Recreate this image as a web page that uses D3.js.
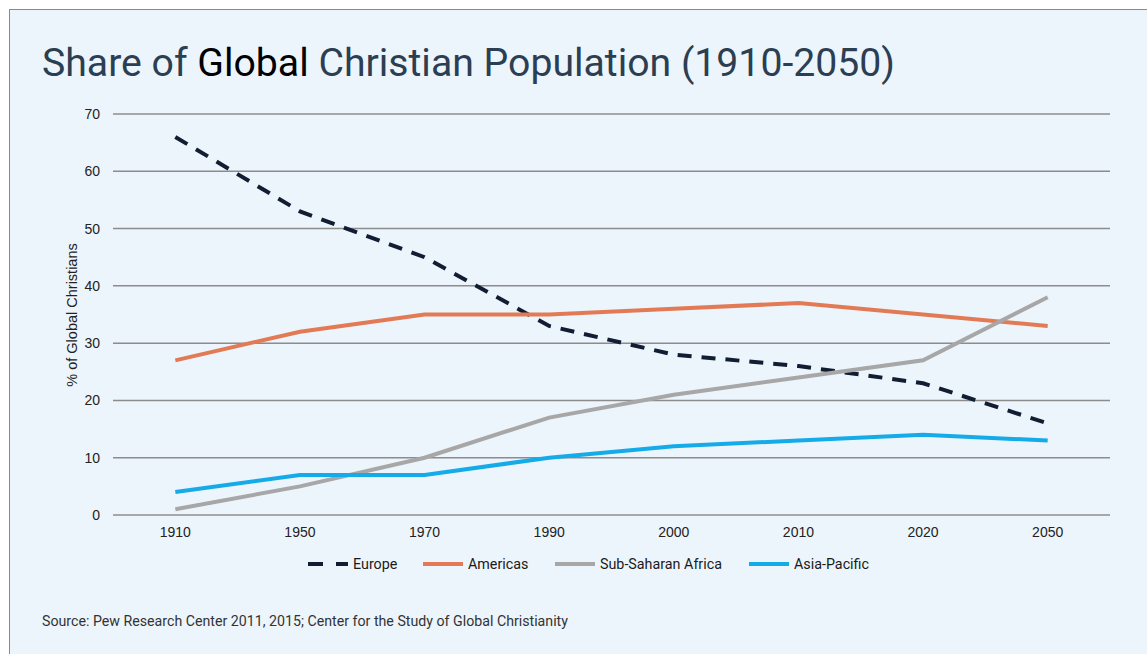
<!DOCTYPE html>
<html>
<head>
<meta charset="utf-8">
<script src="https://cdn.jsdelivr.net/npm/d3@7"></script>
<style>
  html, body { margin: 0; padding: 0; background: #fff; }
  svg { display: block; }
</style>
</head>
<body>
<script>
const [svgWidth, svgHeight] = [1147, 654]

// data
const years = ["1910", "1950", "1970", "1990", "2000", "2010", "2020", "2050"]
const europe = [66, 53, 45, 33, 28, 26, 23, 16]
const americas = [27, 32, 35, 35, 36, 37, 35, 33]
const africa = [1, 5, 10, 17, 21, 24, 27, 38]
const asiaPacific = [4, 7, 7, 10, 12, 13, 14, 13]
const yTicks = [0, 10, 20, 30, 40, 50, 60, 70]

const series = [
  { name: "Europe", values: europe, color: "#111d33", dash: "14,10" },
  { name: "Americas", values: americas, color: "#e27b55", dash: null },
  { name: "Sub-Saharan Africa", values: africa, color: "#a7a7a7", dash: null },
  { name: "Asia-Pacific", values: asiaPacific, color: "#15abe8", dash: null }
]

const margin = { left: 113, right: 37, top: 114, bottom: 139 }

const svg = d3.select('body')
  .append('svg')
  .attr("width", svgWidth)
  .attr("height", svgHeight)

// panel background + frame (top/left edge only visible)
svg.append("rect")
  .attr("x", 0).attr("y", 0)
  .attr("width", svgWidth).attr("height", svgHeight)
  .attr("fill", "#fff")
svg.append("rect")
  .attr("x", 9.5).attr("y", 9.5)
  .attr("width", svgWidth + 10).attr("height", svgHeight + 10)
  .attr("fill", "#edf5fc")
  .attr("stroke", "#8a8a8a")
  .attr("stroke-width", 1)

// title
const title = svg.append("text")
  .attr("x", 42).attr("y", 76)
  .attr("font-family", "Roboto")
  .attr("font-size", "39.2px")
  .attr("fill", "#2c3e52")
title.append("tspan").text("Share of ")
title.append("tspan").attr("fill", "#000").text("Global")
title.append("tspan").text(" Christian Population (1910-2050)")

const x = d3.scaleBand()
  .domain(years)
  .range([margin.left, svgWidth - margin.right])
  .padding(0)

const y = d3.scaleLinear()
  .domain([0, 70])
  .range([svgHeight - margin.bottom, margin.top])

// gridlines
svg.append("g")
  .selectAll("line")
  .data(yTicks)
  .enter()
  .append("line")
    .attr("x1", margin.left)
    .attr("x2", svgWidth - margin.right)
    .attr("y1", d => y(d))
    .attr("y2", d => y(d))
    .attr("stroke", "#8c8c8c")
    .attr("stroke-width", 1.5)

// y tick labels
svg.append("g")
  .selectAll("text")
  .data(yTicks)
  .enter()
  .append("text")
    .text(d => d)
    .attr("x", 100)
    .attr("y", d => y(d) + 5)
    .attr("text-anchor", "end")
    .attr("font-family", "Liberation Sans, Arial, sans-serif")
    .attr("font-size", "14px")
    .attr("fill", "#222")

// x tick labels
svg.append("g")
  .selectAll("text")
  .data(years)
  .enter()
  .append("text")
    .text(d => d)
    .attr("x", d => x(d) + x.bandwidth() / 2)
    .attr("y", 537)
    .attr("text-anchor", "middle")
    .attr("font-family", "Liberation Sans, Arial, sans-serif")
    .attr("font-size", "14px")
    .attr("fill", "#222")

// y axis title
svg.append("text")
  .text("% of Global Christians")
  .attr("transform", "translate(77,315) rotate(-90)")
  .attr("text-anchor", "middle")
  .attr("font-family", "Liberation Sans, Arial, sans-serif")
  .attr("font-size", "14.5px")
  .attr("fill", "#222")

// lines
const line = d3.line()
  .x((d, i) => x(years[i]) + x.bandwidth() / 2)
  .y(d => y(d))

svg.append("g")
  .selectAll("path")
  .data(series)
  .enter()
  .append("path")
    .attr("d", d => line(d.values))
    .attr("fill", "none")
    .attr("stroke", d => d.color)
    .attr("stroke-width", 4)
    .attr("stroke-dasharray", d => d.dash)

// legend
const legendX = [308, 423, 555, 749]
const legend = svg.append("g")
  .selectAll("g")
  .data(series)
  .enter()
  .append("g")
    .attr("transform", (d, i) => `translate(${legendX[i]},564)`)

legend.append("line")
  .attr("x1", 0).attr("x2", 40)
  .attr("y1", 0).attr("y2", 0)
  .attr("stroke", d => d.color)
  .attr("stroke-width", 4)
  .attr("stroke-dasharray", d => d.dash ? "15,13" : null)

legend.append("text")
  .text(d => d.name)
  .attr("x", 45)
  .attr("y", 5)
  .attr("font-family", "Roboto")
  .attr("font-size", "14.3px")
  .attr("fill", "#1a1a1a")

// source note
svg.append("text")
  .text("Source: Pew Research Center 2011, 2015; Center for the Study of Global Christianity")
  .attr("x", 42)
  .attr("y", 626)
  .attr("font-family", "Roboto")
  .attr("font-size", "14.2px")
  .attr("fill", "#333")
</script>
</body>
</html>
